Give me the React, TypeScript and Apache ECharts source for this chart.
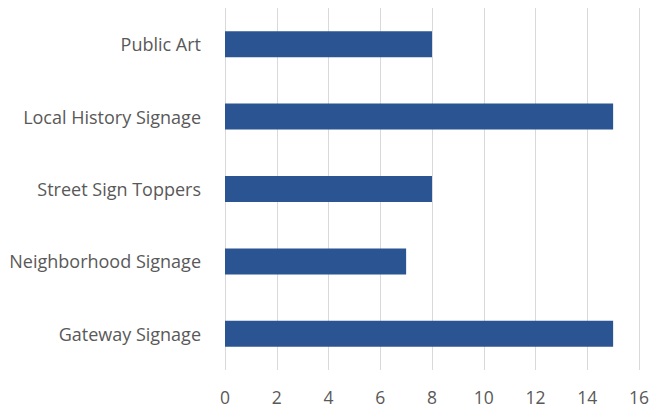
import React, { useEffect, useRef } from "react";
import * as echarts from "echarts";

const categories = [
  "Gateway Signage",
  "Neighborhood Signage",
  "Street Sign Toppers",
  "Local History Signage",
  "Public Art",
];
const values = [15, 7, 8, 15, 8];
const xMin = 0;
const xMax = 16;
const xInterval = 2;

export default function App() {
  const ref = useRef<HTMLDivElement>(null);
  useEffect(() => {
    if (!ref.current) return;
    const chart = echarts.init(ref.current, undefined, { renderer: "svg" });
    chart.setOption({
      animation: false,
      grid: { left: 225, right: 14, top: 8, bottom: 38, containLabel: false },
      xAxis: {
        type: "value",
        min: xMin,
        max: xMax,
        interval: xInterval,
        axisLine: { show: false },
        axisTick: { show: false },
        splitLine: { show: true, lineStyle: { color: "#d9d9d9", width: 1 } },
        axisLabel: {
          color: "#595959",
          fontFamily: "Open Sans",
          fontSize: 17.5,
          margin: 18,
        },
      },
      yAxis: {
        type: "category",
        data: categories,
        axisLine: { show: false },
        axisTick: { show: false },
        axisLabel: {
          color: "#595959",
          fontFamily: "Open Sans",
          fontSize: 18,
          margin: 24,
        },
      },
      series: [
        {
          type: "bar",
          data: values,
          barWidth: 26,
          itemStyle: { color: "#2b5592" },
        },
      ],
    });
    return () => chart.dispose();
  }, []);
  return (
    <div
      ref={ref}
      style={{ position: "absolute", left: 0, top: 0, width: 653, height: 408 }}
    />
  );
}
